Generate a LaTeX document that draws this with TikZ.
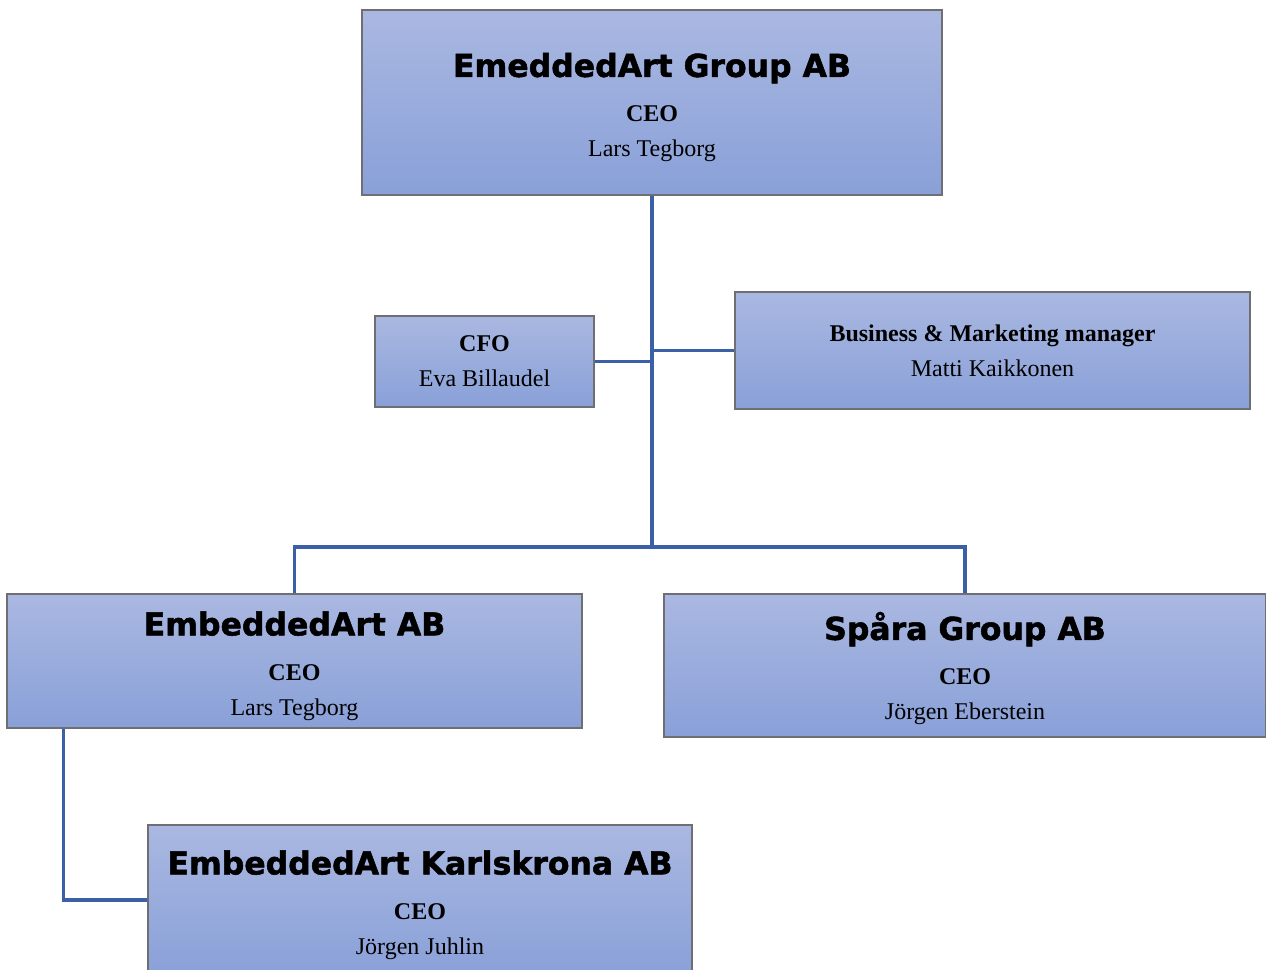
\documentclass[tikz,border=0pt]{standalone}
\usepackage{fontspec}
\setmainfont{Liberation Serif}
\newfontfamily\heavyfont{DejaVu Sans}[BoldFeatures={FakeBold=1.6}]
\definecolor{boxtop}{RGB}{170,184,225}
\definecolor{boxbot}{RGB}{137,160,216}
\definecolor{boxgray}{RGB}{110,110,115}
\definecolor{linkblue}{RGB}{60,96,168}
\newcommand\firm[1]{{\heavyfont\bfseries\fontsize{31.5}{35}\selectfont\rule{0pt}{34pt}#1}\\[10pt]}
\begin{document}
\begin{tikzpicture}[x=1pt, y=-1pt, line join=miter,
	unit/.style={draw=boxgray, line width=1.2pt, top color=boxtop, bottom color=boxbot, align=center, inner sep=0pt, font=\fontsize{24}{35}\selectfont},
	link/.style={draw=linkblue, line width=3.2pt}]
	\useasboundingbox (0,0) rectangle (1266,969);
	% boxes
	\node[unit, minimum width=580, minimum height=185] (group) at (652,102.5) {\firm{EmeddedArt Group AB}\textbf{CEO}\\Lars Tegborg};
	\node[unit, minimum width=219, minimum height=91] (cfo) at (484.5,361.5) {\textbf{CFO}\\Eva Billaudel};
	\node[unit, minimum width=515, minimum height=117] (bm) at (992.5,350.5) {\textbf{Business \& Marketing manager}\\Matti Kaikkonen};
	\node[unit, minimum width=575, minimum height=134] (eab) at (294.5,661) {\firm{EmbeddedArt AB}\textbf{CEO}\\Lars Tegborg};
	\node[unit, minimum width=602, minimum height=143] (spara) at (965,665.5) {\firm{Spåra Group AB}\textbf{CEO}\\Jörgen Eberstein};
	\node[unit, minimum width=544, minimum height=150] (karls) at (420,900) {\firm{EmbeddedArt Karlskrona AB}\textbf{CEO}\\Jörgen Juhlin};
	% lines
	\coordinate (bus) at (652,547);
	\coordinate (tap) at ([xshift=57pt]eab.south west);
	\draw[link] (group.south) -- (bus);
	\draw[link] (cfo.east) -- (cfo.east -| group.south);
	\draw[link] (bm.west) -- (bm.west -| group.south);
	\draw[link] (eab.north) |- (bus) -| (spara.north);
	\draw[link] (tap) |- (karls.west);
\end{tikzpicture}
\end{document}
